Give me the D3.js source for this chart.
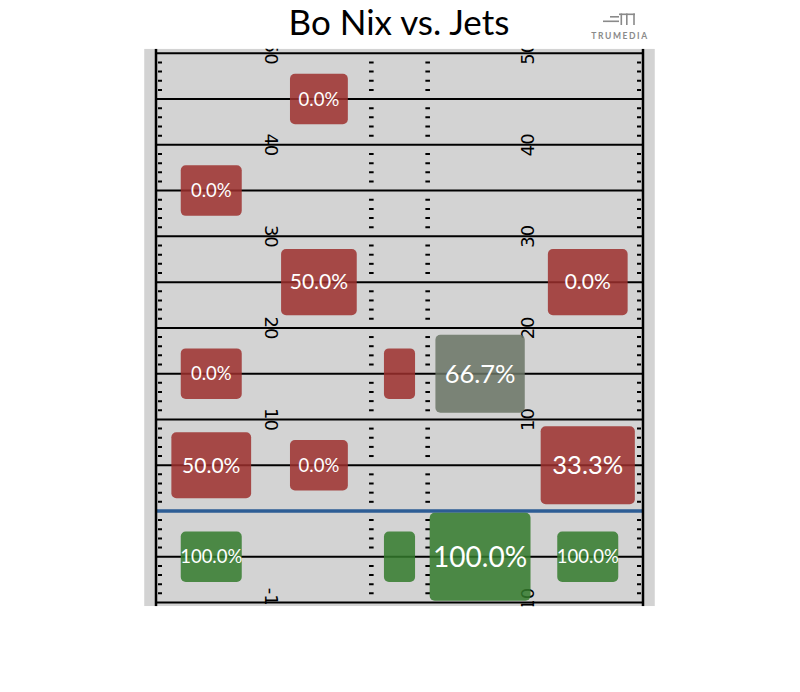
<!DOCTYPE html>
<html>
<head>
<meta charset="utf-8">
<script src="https://cdn.jsdelivr.net/npm/d3@7/dist/d3.min.js"></script>
<style>
  html, body { margin: 0; padding: 0; background: #ffffff; }
  svg { display: block; }
</style>
</head>
<body>
<div id="chart"></div>
<script>
// ---------------- DATA ----------------
const chartTitle = "Bo Nix vs. Jets";
// zone edges across the field (yards from left sideline)
const zoneEdges = [0, 12.1, 23.58, 29.75, 41.23, 53.33];
// yard numbers painted on the field
const yardNumbers = [50, 40, 30, 20, 10, -10];
const yardNumberLabels = ["50", "40", "30", "20", "10", "-10"];
// cells (pass depth bucket centre, zone index, attempts, completion %, rating vs avg)
const cellYard     = [45, 35, 25, 25, 15, 15, 15, 5, 5, 5, -5, -5, -5, -5];
const cellZone     = [1, 0, 1, 4, 0, 2, 3, 0, 1, 4, 0, 2, 3, 4];
const cellAttempts = [1, 1, 2, 2, 1, 1, 3, 2, 1, 3, 1, 1, 4, 1];
const cellPct      = [0, 0, 50, 0, 0, 0, 66.7, 50, 0, 33.3, 100, 100, 100, 100];
const cellRating   = ["below", "below", "below", "below", "below", "below", "average",
                      "below", "below", "below", "above", "above", "above", "above"];
const ratingCategories = ["below", "average", "above"];

// ---------------- CHART ----------------
const W = 800, H = 692;
const svg = d3.select("#chart").append("svg").attr("width", W).attr("height", H);

const x = d3.scaleLinear().domain([0, 53.33]).range([156, 643]);
const y = d3.scaleLinear().domain([-10, 50]).range([602.5, 53.3]);
const color = d3.scaleOrdinal().domain(ratingCategories).range(["#9c2f2d", "#6a7465", "#327a2c"]);
const sizeF = d3.scalePow().exponent(0.5).domain([1, 4]).range([0.552, 0.962]);
const fontS = d3.scaleLinear().domain([1, 2, 3, 4]).range([18.5, 21, 25.5, 28]);

// Title
svg.append("text")
  .attr("x", 399).attr("y", 35)
  .attr("text-anchor", "middle")
  .style("font-family", "Lato, sans-serif")
  .style("font-size", "35px")
  .style("fill", "#000")
  .text(chartTitle);

// Logo
const logo = svg.append("g").attr("fill", "#8a8a8a");
logo.append("rect").attr("x", 610).attr("y", 16).attr("width", 9).attr("height", 1.6);
logo.append("rect").attr("x", 603).attr("y", 20.5).attr("width", 16).attr("height", 1.6);
logo.append("rect").attr("x", 619).attr("y", 13.5).attr("width", 16).attr("height", 1.6);
[620.5, 626, 633.2].forEach(px => logo.append("rect").attr("x", px).attr("y", 13.5).attr("width", 1.6).attr("height", 11.5));
svg.append("text")
  .attr("x", 620).attr("y", 38.5)
  .attr("text-anchor", "middle")
  .style("font-family", "Lato, sans-serif")
  .style("font-weight", "700")
  .style("font-size", "8.5px")
  .style("letter-spacing", "1.6px")
  .style("fill", "#8a8a8a")
  .text("TRUMEDIA");

// Field
const bx0 = x(-1.3), bx1 = x(54.63), by0 = y(50.5), by1 = y(-10.4);
svg.append("defs").append("clipPath").attr("id", "fieldClip")
  .append("rect").attr("x", bx0).attr("y", by0).attr("width", bx1 - bx0).attr("height", by1 - by0);

const field = svg.append("g").attr("clip-path", "url(#fieldClip)");
field.append("rect")
  .attr("x", bx0).attr("y", by0).attr("width", bx1 - bx0).attr("height", by1 - by0)
  .attr("fill", "#d3d3d3");

// yard lines
const lines = d3.range(-10, 51, 5).filter(v => v !== 0);
field.selectAll("line.yard").data(lines).enter().append("line")
  .attr("class", "yard")
  .attr("x1", x(0)).attr("x2", x(53.33))
  .attr("y1", d => y(d)).attr("y2", d => y(d))
  .attr("stroke", "#000").attr("stroke-width", 2);

// hash ticks
const ticks = d3.range(-10, 51).filter(v => v % 5 !== 0);
const tickCols = [
  { a: x(0) + 2, b: x(0) + 6 },
  { a: x(23.58) - 2.3, b: x(23.58) + 2.3 },
  { a: x(29.75) - 2.3, b: x(29.75) + 2.3 },
  { a: x(53.33) - 6, b: x(53.33) - 2 }
];
tickCols.forEach(c => {
  field.append("g").selectAll("line").data(ticks).enter().append("line")
    .attr("x1", c.a).attr("x2", c.b)
    .attr("y1", d => y(d)).attr("y2", d => y(d))
    .attr("stroke", "#000").attr("stroke-width", 2);
});

// yard numbers
const numG = field.append("g")
  .style("font-family", "'DejaVu Sans', sans-serif")
  .style("font-size", "18px")
  .style("fill", "#000");
yardNumbers.forEach((v, i) => {
  numG.append("text")
    .attr("transform", `translate(${x(12.65)},${y(v)}) rotate(90)`)
    .attr("text-anchor", "middle").attr("dy", "0.35em")
    .text(yardNumberLabels[i]);
  numG.append("text")
    .attr("transform", `translate(${x(53.33 - 12.6)},${y(v)}) rotate(-90)`)
    .attr("text-anchor", "middle").attr("dy", "0.35em")
    .text(yardNumberLabels[i]);
});

// line of scrimmage
field.append("line")
  .attr("x1", x(0)).attr("x2", x(53.33))
  .attr("y1", y(0)).attr("y2", y(0))
  .attr("stroke", "#2d5d95").attr("stroke-width", 3.5);

// sidelines
[0, 53.33].forEach(v => {
  field.append("line")
    .attr("x1", x(v)).attr("x2", x(v))
    .attr("y1", by0).attr("y2", by1)
    .attr("stroke", "#000").attr("stroke-width", 2.5);
});

// cells
const cells = cellYard.map((yd, i) => ({
  yd, zone: cellZone[i], n: cellAttempts[i], pct: cellPct[i], rating: cellRating[i]
}));
const rowH = y(0) - y(10);
const cellG = svg.append("g");
cells.forEach(c => {
  const cx = (x(zoneEdges[c.zone]) + x(zoneEdges[c.zone + 1])) / 2;
  const colW = x(zoneEdges[c.zone + 1]) - x(zoneEdges[c.zone]);
  const cy = y(c.yd);
  const f = sizeF(c.n);
  const w = colW * f, h = rowH * f;
  cellG.append("rect")
    .attr("x", cx - w / 2).attr("y", cy - h / 2)
    .attr("width", w).attr("height", h)
    .attr("rx", 5).attr("ry", 5)
    .attr("fill", color(c.rating))
    .attr("fill-opacity", 0.85);
  if (w > 45) {
    cellG.append("text")
      .attr("x", cx).attr("y", cy)
      .attr("dy", "0.35em")
      .attr("text-anchor", "middle")
      .style("font-family", "Lato, sans-serif")
      .style("font-size", fontS(c.n) + "px")
      .style("fill", "#fff")
      .text(d3.format(".1f")(c.pct) + "%");
  }
});
</script>
</body>
</html>
